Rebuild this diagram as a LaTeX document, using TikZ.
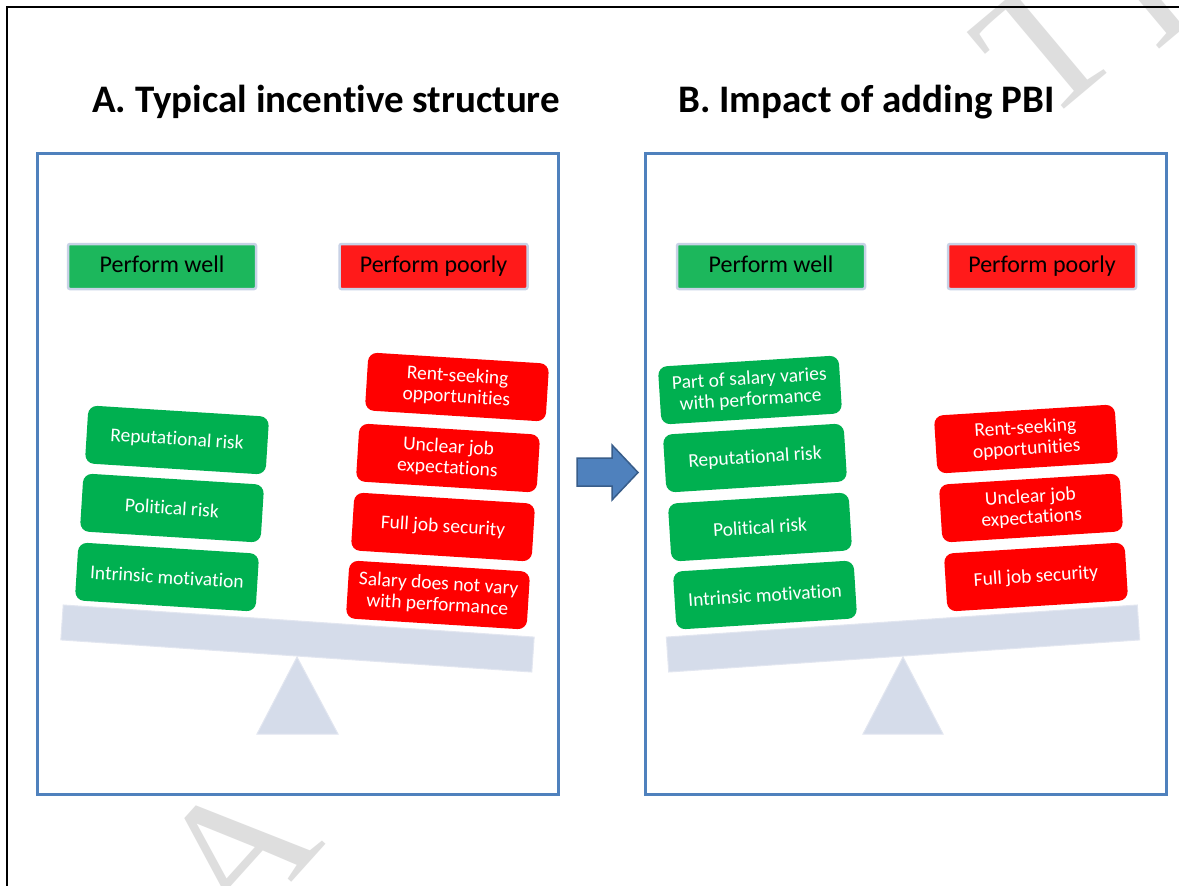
\documentclass[tikz,border=0pt]{standalone}
\usepackage{fontspec}
\setmainfont{Carlito}[Ligatures={NoCommon,NoContextual}]
\newfontfamily\wmfont{Liberation Serif}
\definecolor{panelblue}{RGB}{79,129,189}
\definecolor{arrowedge}{RGB}{56,93,138}
\definecolor{boxgreen}{RGB}{0,176,80}
\definecolor{boxred}{RGB}{255,0,0}
\definecolor{hdrgreen}{RGB}{28,183,92}
\definecolor{hdrred}{RGB}{255,26,26}
\definecolor{hdredge}{RGB}{200,210,230}
\definecolor{scalegray}{RGB}{213,220,234}
\definecolor{wmgray}{RGB}{222,222,222}
\begin{document}
\begin{tikzpicture}[x=1pt,y=-1pt,
  panel/.style={draw=panelblue, line width=3pt, minimum width=521, minimum height=641, inner sep=0},
  title/.style={font=\fontsize{39}{47}\selectfont\bfseries, inner sep=0, anchor=base},
  header/.style={minimum width=188, minimum height=45, draw=hdredge, line width=2.5pt, rounded corners=2pt, font=\fontsize{24}{28}\selectfont, text=black, inner sep=0, text height=17, text depth=5},
  item/.style={minimum width=181, minimum height=58, rounded corners=9pt, text=white, align=center, font=\fontsize{19.5}{21}\selectfont, inner sep=0},
  good/.style={item, fill=boxgreen},
  bad/.style={item, fill=boxred},
  beam/.style={fill=scalegray, draw=scalegray!70!white, line width=1pt, minimum width=472, minimum height=35, inner sep=0},
  fulcrum/.style={fill=scalegray, draw=scalegray!70!white, line width=1pt},
  watermark/.style={text=wmgray, font=\fontsize{185}{185}\selectfont\wmfont, inner sep=0},
  blockarrow/.style={fill=panelblue, draw=arrowedge, line width=1.5pt, line join=miter}
  ]
\useasboundingbox (0,0) rectangle (1179,886);
\fill[white] (0,0) rectangle (1179,886);
% watermark fragments
\begin{scope}
\clip (0,0) rectangle (1179,886);
\node[watermark, rotate=48] (wmA) at (237,852) {A};
\node[watermark, rotate=40] (wmT) at (1047,45) {T};
\node[watermark, rotate=40] (wmE) at (1160,-30) {E};
\end{scope}
% outer frame
\draw[line width=2pt] (6.5,886) -- (6.5,6.5) -- (1179,6.5);
% titles
\node[title] (tA) at (326,112) {A. Typical incentive structure};
\node[title] (tB) at (866.5,112) {B. Impact of adding PBI};
% panels
\node[panel] (pA) at (298,474) {};
\node[panel] (pB) at (906,474) {};
% headers
\node[header, fill=hdrgreen] (hA1) at (162,266.5) {Perform well};
\node[header, fill=hdrred] (hA2) at (433.5,266.5) {Perform poorly};
\node[header, fill=hdrgreen] (hB1) at (771,266.5) {Perform well};
\node[header, fill=hdrred] (hB2) at (1042,266.5) {Perform poorly};
% scale A
\node[beam, rotate=-3.9] (bA) at (297.5,638.5) {};
\draw[fulcrum] (297,657) -- (338,734) -- (257,734) -- cycle;
\node[good, rotate=-3.6] (gA1) at (177,440) {Reputational risk};
\node[good, rotate=-3.6] (gA2) at (172,508) {Political risk};
\node[good, rotate=-3.6] (gA3) at (167,577) {Intrinsic motivation};
\node[bad, rotate=-3.6] (rA1) at (457,387) {Rent-seeking\\opportunities};
\node[bad, rotate=-3.6] (rA2) at (448,458) {Unclear job\\expectations};
\node[bad, rotate=-3.6] (rA3) at (443,527) {Full job security};
\node[bad, rotate=-3.6] (rA4) at (438,595) {Salary does not vary\\with performance};
% scale B
\node[beam, rotate=3.9] (bB) at (903,638.5) {};
\draw[fulcrum] (903,657) -- (943,734) -- (863,734) -- cycle;
\node[good, rotate=3.6] (gB1) at (750,390) {Part of salary varies\\with performance};
\node[good, rotate=3.6] (gB2) at (755,458) {Reputational risk};
\node[good, rotate=3.6] (gB3) at (760,527) {Political risk};
\node[good, rotate=3.6] (gB4) at (765,595) {Intrinsic motivation};
\node[bad, rotate=3.6] (rB1) at (1026,439) {Rent-seeking\\opportunities};
\node[bad, rotate=3.6] (rB2) at (1031,508) {Unclear job\\expectations};
\node[bad, rotate=3.6] (rB3) at (1036,577) {Full job security};
% block arrow
\draw[blockarrow] (577,458) -- (612,458) -- (612,445) -- (638,472.5) -- (612,500) -- (612,486) -- (577,486) -- cycle;
\end{tikzpicture}
\end{document}
